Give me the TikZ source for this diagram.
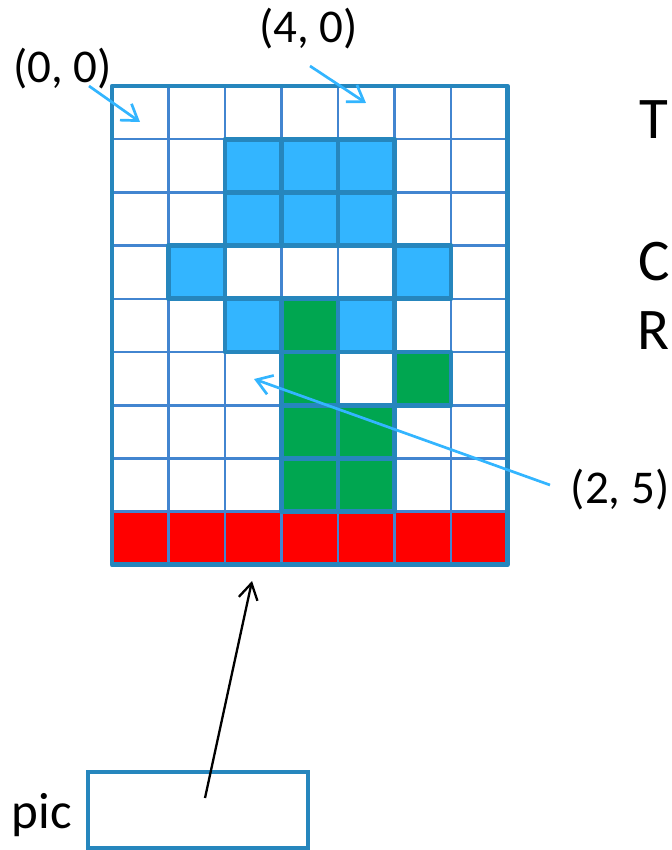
\documentclass[tikz,border=0pt]{standalone}
\usepackage{fontspec}
\setmainfont{Carlito}
\usetikzlibrary{arrows.meta}
\definecolor{cellblue}{RGB}{51,181,255}
\definecolor{cellgreen}{RGB}{0,166,80}
\definecolor{cellred}{RGB}{255,0,0}
\definecolor{gridline}{RGB}{66,133,208}
\definecolor{framecol}{RGB}{38,134,189}
\begin{document}
\begin{tikzpicture}[x=1pt,y=-1pt,
  thinline/.style={gridline,line width=2.6},
  thickline/.style={framecol,line width=4.8,line join=round},
  label/.style={inner sep=0pt,anchor=base,font=\fontsize{47}{56}\selectfont},
  biglabel/.style={inner sep=0pt,anchor=base west,font=\fontsize{59}{70}\selectfont},
  bluearrow/.style={cellblue,line width=2.7,-{Straight Barb[length=15,width=20,line width=2.7]}},
  blackarrow/.style={black,line width=2.3,-{Straight Barb[length=16,width=19,line width=2.3]}},
  picbox/.style={draw=framecol,line width=4.8,minimum width=220,minimum height=76,inner sep=0pt}
]
\useasboundingbox (0,0) rectangle (671,850);
\def\cw{56.5}
\def\ch{53.2}
% red row
\fill[cellred] (112,{86+8*\ch}) rectangle ++({7*\cw},\ch);
% blue cells
\foreach \c/\r in {2/1,3/1,4/1,2/2,3/2,4/2,1/3,5/3,2/4,4/4}
  \fill[cellblue] ({112+\c*\cw},{86+\r*\ch}) rectangle ++(\cw,\ch);
% green cells
\foreach \c/\r in {3/4,3/5,5/5,3/6,4/6,3/7,4/7}
  \fill[cellgreen] ({112+\c*\cw},{86+\r*\ch}) rectangle ++(\cw,\ch);
% thin grid lines
\foreach \i in {1,...,6}
  \draw[thinline] ({112+\i*\cw},86) -- ({112+\i*\cw},{86+9*\ch});
\foreach \j in {1,...,8}
  \draw[thinline] (112,{86+\j*\ch}) -- ({112+7*\cw},{86+\j*\ch});
% thick borders of coloured cells
\foreach \c/\r in {2/1,3/1,4/1,2/2,3/2,4/2,1/3,5/3,2/4,4/4,3/4,3/5,5/5,3/6,4/6,3/7,4/7}
  \draw[thickline] ({112+\c*\cw},{86+\r*\ch}) rectangle ++(\cw,\ch);
% outer frame
\draw[thickline] (112,86) rectangle ({112+7*\cw},{86+9*\ch});

% labels
\node[label] (l00) at (62.5,83) {(0, 0)};
\node[label] (l40) at (308.5,43) {(4, 0)};
\node[label] (l25) at (620,503) {(2, 5)};
\node[biglabel] (lt) at (639,139) {T};
\node[biglabel] (lc) at (638,280) {C};
\node[biglabel] (lr) at (637,349) {R};
\node[label,font=\fontsize{51}{60}\selectfont] (lpic) at (42,828) {pic};
\node[picbox] (pic) at (198,810) {};

% arrow coordinates
\coordinate (s00) at (89,86);
\coordinate (t00) at (140,122);
\coordinate (s40) at (310,66);
\coordinate (t40) at (366,103);
\coordinate (s25) at (550,485);
\coordinate (t25) at (254,379);
\coordinate (spic) at (205,798);
\coordinate (tgrid) at (252,581);

\draw[bluearrow] (s00) -- (t00);
\draw[bluearrow] (s40) -- (t40);
\draw[bluearrow] (s25) -- (t25);
\draw[blackarrow] (spic) -- (tgrid);
\end{tikzpicture}
\end{document}
